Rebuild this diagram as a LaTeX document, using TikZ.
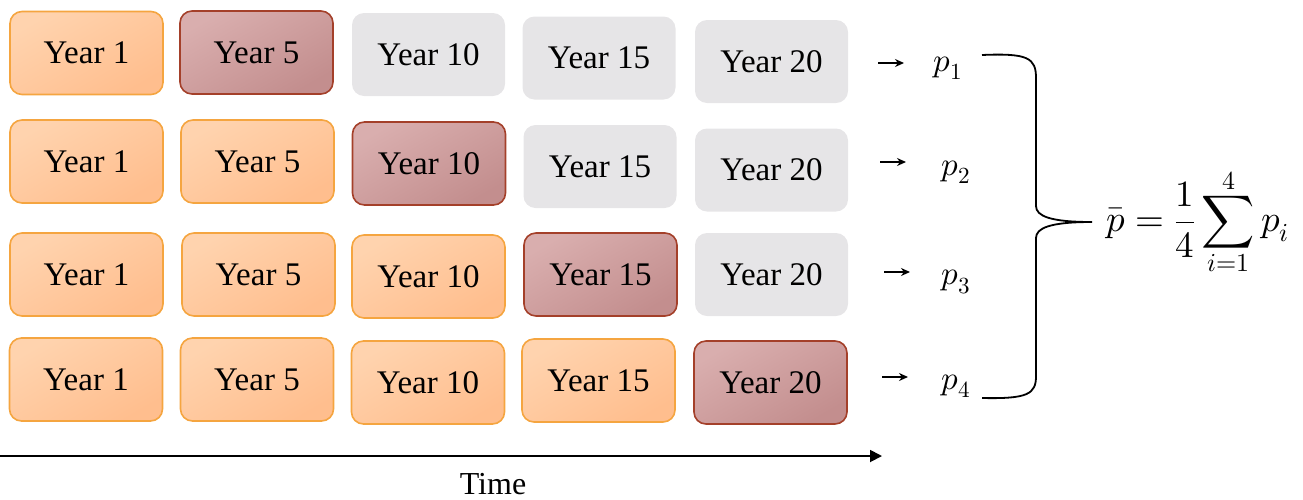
\documentclass[tikz,border=0pt]{standalone}
\usepackage{fontspec}
\usepackage{unicode-math}
\setmainfont{Liberation Serif}
\setmathfont{Latin Modern Math}
\usetikzlibrary{arrows.meta}
\definecolor{orfillA}{HTML}{FFD3AE}
\definecolor{orfillB}{HTML}{FFBE8E}
\definecolor{ordraw}{HTML}{F5A540}
\definecolor{rdfillA}{HTML}{D9AEAE}
\definecolor{rdfillB}{HTML}{C38E8E}
\definecolor{rddraw}{HTML}{A4402A}
\definecolor{grfill}{HTML}{E6E5E7}
\tikzset{
  yr/.style={rounded corners=12pt, minimum width=153pt, minimum height=83pt, inner sep=0pt,
    font=\fontsize{33}{38}\selectfont},
  obox/.style={yr, draw=ordraw, line width=1.6pt, top color=orfillA, bottom color=orfillB, shading angle=30},
  rbox/.style={yr, draw=rddraw, line width=1.6pt, top color=rdfillA, bottom color=rdfillB, shading angle=30},
  gbox/.style={yr, fill=grfill},
  parr/.style={-{Stealth[length=9pt,width=8pt]}, line width=1.5pt},
  plab/.style={font=\fontsize{33}{36}\selectfont, inner sep=0pt},
}
\begin{document}
\begin{tikzpicture}[x=1pt,y=-1pt]
\useasboundingbox (0,0) rectangle (1303,499);
% row 1
\node[obox] (a1) at (86.5,53) {Year 1};
\node[rbox] (a2) at (256.5,52.5) {Year 5};
\node[gbox] (a3) at (428.5,54.5) {Year 10};
\node[gbox] (a4) at (599,58) {Year 15};
\node[gbox] (a5) at (771.5,61.5) {Year 20};
% row 2
\node[obox] (b1) at (86.5,161.5) {Year 1};
\node[obox] (b2) at (257.5,161.5) {Year 5};
\node[rbox] (b3) at (429,163.5) {Year 10};
\node[gbox] (b4) at (600,166.5) {Year 15};
\node[gbox] (b5) at (771.5,170) {Year 20};
% row 3
\node[obox] (c1) at (86.5,274.5) {Year 1};
\node[obox] (c2) at (258.5,274.5) {Year 5};
\node[obox] (c3) at (428.5,276.5) {Year 10};
\node[rbox] (c4) at (600.5,274.5) {Year 15};
\node[gbox] (c5) at (771.5,274.5) {Year 20};
% row 4
\node[obox] (d1) at (86,379.5) {Year 1};
\node[obox] (d2) at (257,379.5) {Year 5};
\node[obox] (d3) at (428,382.5) {Year 10};
\node[obox] (d4) at (598.5,380.5) {Year 15};
\node[rbox] (d5) at (770.5,382.5) {Year 20};
% p labels
\node[plab] (p1) at (948,68) {$p_1$};
\node[plab] (p2) at (956,172) {$p_2$};
\node[plab] (p3) at (956,282) {$p_3$};
\node[plab] (p4) at (956,386) {$p_4$};
\coordinate (s1) at (878,63);
\coordinate (s2) at (880,162);
\coordinate (s3) at (884,272);
\coordinate (s4) at (882,377);
\draw[parr] (s1) -- ++(26,0);
\draw[parr] (s2) -- ++(26,0);
\draw[parr] (s3) -- ++(26,0);
\draw[parr] (s4) -- ++(26,0);
% brace
\coordinate (bt) at (982,55);
\coordinate (bb) at (982,398);
\coordinate (tip) at (1092,222);
\draw[line width=1.8pt]
  (bt) .. controls (1028,53) and (1036,58) .. (1036,78)
  -- (1036,206) .. controls (1036,216) and (1050,222) .. (tip)
  .. controls (1050,222) and (1036,228) .. (1036,238)
  -- (1036,376) .. controls (1036,394) and (1028,399) .. (bb);
% formula
\node[anchor=west, inner sep=0pt, font=\fontsize{37}{42}\selectfont] (f) at (1106,222)
  {$\displaystyle \bar{p}=\frac{1}{4}\sum_{i=1}^{4}p_i$};
% time axis
\coordinate (t0) at (0,456);
\coordinate (t1) at (882,456);
\draw[line width=1.8pt, -{Triangle[length=12pt,width=12pt]}] (t0) -- (t1);
\node[font=\fontsize{32}{36}\selectfont] (time) at (493,484) {Time};
\end{tikzpicture}
\end{document}
